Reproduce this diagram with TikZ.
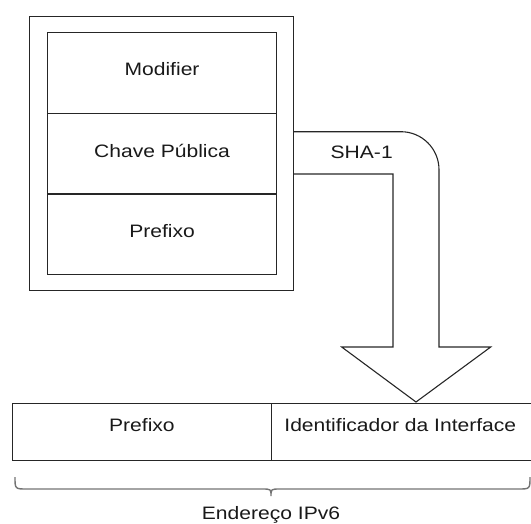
\documentclass[tikz,border=0pt]{standalone}
\usepackage{fontspec}
\setmainfont[FakeStretch=1.17]{Liberation Sans}
\begin{document}
\begin{tikzpicture}[x=1pt,y=-1pt,
  every node/.style={font=\fontsize{18}{20}\selectfont, text=black!90},
  ln/.style={draw=black!85, line width=1.1pt},
  cell/.style={ln, rectangle, inner sep=0pt, anchor=north west},
  lbl/.style={inner sep=0pt, anchor=base}
]
\useasboundingbox (0,0) rectangle (531,523);
% outer frame
\node[cell, minimum width=264pt, minimum height=274pt] (outer) at (29,16) {};
% inner rows
\node[cell, minimum width=229pt, minimum height=80.7pt] (mod) at (47,32) {};
\node[cell, minimum width=229pt, minimum height=80.7pt] (chave) at (47,112.7) {};
\node[cell, minimum width=229pt, minimum height=80.6pt] (pref) at (47,193.4) {};
\node[lbl] (tmod) at (mod.center |- 0,75.8) {Modifier};
\node[lbl] (tchave) at (chave.center |- 0,157) {Chave Pública};
\node[lbl] (tpref) at (pref.center |- 0,237.3) {Prefixo};
% big bent arrow
\coordinate (a1) at (outer.east |- 0,131.7);
\coordinate (a2) at (outer.east |- 0,174);
\draw[ln, line join=miter] (a1) -- (401,131.7) arc[start angle=90, end angle=0, radius=38pt]
  -- (439,347) -- (490.7,347) -- (416,402) -- (341.7,347) -- (393,347) -- (393,174) -- (a2);
\node[lbl] (sha) at (361.7,158.5) {SHA-1};
% IPv6 address
\node[cell, minimum width=259.3pt, minimum height=56.7pt] (bpref) at (11.7,403.3) {};
\node[cell, minimum width=259.5pt, minimum height=56.7pt] (bid) at (271,403.3) {};
\node[lbl] (tbpref) at (bpref.center |- 0,431.5) {Prefixo};
\node[lbl] (tbid) at ([xshift=-1pt]bid.center |- 0,431.5) {Identificador da Interface};
% brace
\draw[draw=black!55, line width=1.4pt]
  (15,477) .. controls (15,489) .. (27,489) -- (262,489)
  .. controls (271,489) .. (271,496)
  (271,496) .. controls (271,489) .. (280,489) -- (518,489)
  .. controls (530,489) .. (530,477);
\node[lbl] (ipv6) at (271,519) {Endereço IPv6};
\end{tikzpicture}
\end{document}
